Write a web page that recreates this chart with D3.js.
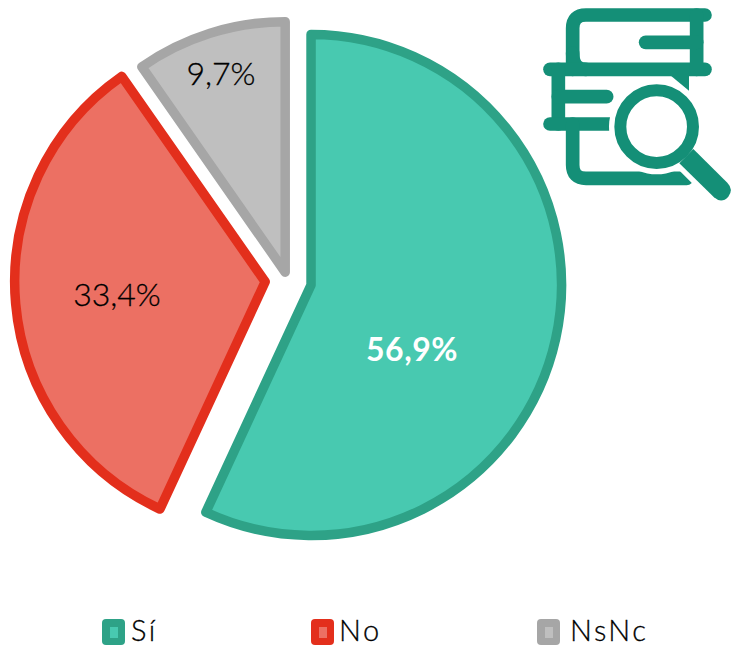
<!DOCTYPE html>
<html>
<head>
<meta charset="utf-8">
<script src="https://cdn.jsdelivr.net/npm/d3@7"></script>
<style>
  html, body { margin: 0; background: #fff; }
  text { font-family: Lato, "Open Sans", sans-serif; }
</style>
</head>
<body>
<div class="chart"></div>
<script>
const categories = ["Sí", "No", "NsNc"];
const values = [56.9, 33.4, 9.7];
const labels = ["56,9%", "33,4%", "9,7%"];
const fills = ["#48c9b0", "#ec7063", "#bfbfbf"];
const strokes = ["#2ea287", "#e32f1c", "#a6a6a6"];

const width = 732;
const height = 647;
const center = { x: 287.6, y: 279.8 };
const radius = 250.5;
const explode = [24, 22.5, 8];
const labelPos = [[412, 350], [117, 295], [221, 74]];
const legendX = [102, 311, 537];
const legendTextX = [131, 339, 570];
const legendY = 619;
const iconColor = "#148f77";

let svg = d3
  .select(".chart")
  .append("svg")
  .attr("width", width)
  .attr("height", height)
  .style("display", "block");

const pie = d3.pie().sort(null).value(d => d);
const arc = d3.arc().innerRadius(0).outerRadius(radius);
const arcs = pie(values);

svg
  .selectAll("path.slice")
  .data(arcs)
  .enter()
  .append("path")
  .attr("class", "slice")
  .attr("transform", (d, i) => {
    const mid = (d.startAngle + d.endAngle) / 2;
    const x = center.x + explode[i] * Math.sin(mid);
    const y = center.y - explode[i] * Math.cos(mid);
    return `translate(${x}, ${y})`;
  })
  .attr("d", arc)
  .attr("fill", (d, i) => fills[i])
  .attr("stroke", (d, i) => strokes[i])
  .attr("stroke-width", 9.5)
  .attr("stroke-linejoin", "round");

svg
  .selectAll("text.value")
  .data(labels)
  .enter()
  .append("text")
  .attr("class", "value")
  .attr("x", (d, i) => labelPos[i][0])
  .attr("y", (d, i) => labelPos[i][1])
  .attr("dy", "0.35em")
  .attr("text-anchor", "middle")
  .attr("font-size", 32)
  .attr("font-weight", (d, i) => (i === 0 ? 700 : 300))
  .attr("letter-spacing", (d, i) => (i === 0 ? 0.5 : 0))
  .attr("fill", (d, i) => (i === 0 ? "#fff" : "#000"))
  .attr("stroke", (d, i) => (i === 0 ? "none" : "#000"))
  .attr("stroke-width", 0.3)
  .text(d => d);

// legend
const legend = svg
  .selectAll("g.legend")
  .data(categories)
  .enter()
  .append("g")
  .attr("class", "legend")
  .attr("transform", (d, i) => `translate(${legendX[i]}, ${legendY})`);

legend
  .append("rect")
  .attr("width", 23)
  .attr("height", 26)
  .attr("rx", 4)
  .attr("fill", (d, i) => strokes[i]);

legend
  .append("rect")
  .attr("x", 8)
  .attr("y", 8)
  .attr("width", 8)
  .attr("height", 11)
  .attr("fill", (d, i) => fills[i]);

svg
  .selectAll("text.legend-label")
  .data(categories)
  .enter()
  .append("text")
  .attr("class", "legend-label")
  .attr("x", (d, i) => legendTextX[i])
  .attr("y", 641)
  .attr("font-size", 29)
  .attr("font-weight", 300)
  .attr("letter-spacing", 2.5)
  .attr("fill", "#000")
  .attr("stroke", "#000")
  .attr("stroke-width", 0.3)
  .text(d => d);

// icon, drawn in the 3x units it was measured in
const icon = svg.append("g").attr("transform", "translate(530, 0) scale(0.3333)");

const bars = [
  "M525 45 H168 Q128 45 128 85 V208",
  "M128 160 Q128 208 168 208",
  "M60 208 H525",
  "M500 45 V208",
  "M347 127 H500",
  "M85 208 V372",
  "M85 290 H230",
  "M60 372 H300",
  "M128 372 V495 Q128 535 168 535 H470"
];

icon
  .selectAll("path.book")
  .data(bars)
  .enter()
  .append("path")
  .attr("class", "book")
  .attr("d", d => d)
  .attr("fill", "none")
  .attr("stroke", iconColor)
  .attr("stroke-width", 41)
  .attr("stroke-linecap", "round");

icon.append("path").attr("d", "M420 225 H477 V272 Z").attr("fill", iconColor);

// white halo that cuts the book around the lens
icon.append("circle").attr("cx", 380).attr("cy", 380).attr("r", 143).attr("fill", "#fff");
icon
  .append("path")
  .attr("d", "M470 470 L590 590")
  .attr("stroke", "#fff")
  .attr("stroke-width", 90);

icon
  .append("circle")
  .attr("cx", 380)
  .attr("cy", 380)
  .attr("r", 109)
  .attr("fill", "#fff")
  .attr("stroke", iconColor)
  .attr("stroke-width", 36);

icon
  .append("path")
  .attr("d", "M490 447 L448 490 L552 592 Q575 612 595 590 Q612 568 592 548 Z")
  .attr("fill", iconColor);
</script>
</body>
</html>
